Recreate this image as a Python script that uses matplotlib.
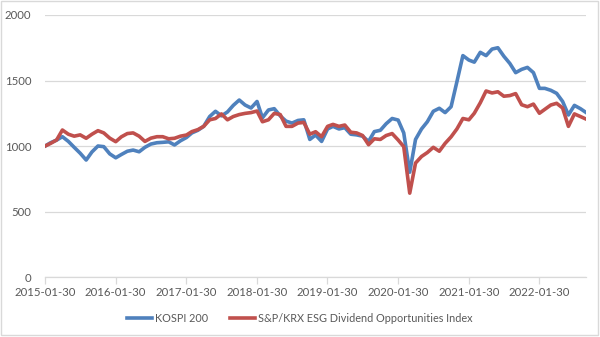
import matplotlib
matplotlib.use("Agg")
import matplotlib.pyplot as plt
import pandas as pd
from matplotlib.patches import Rectangle

plt.rcParams['font.family'] = ['Lato', 'DejaVu Sans']

dates = pd.date_range('2015-01-31', periods=93, freq='ME')

kospi = [1000, 1025, 1045, 1071, 1035, 990, 945, 893, 955, 1000, 995, 940,
         910, 935, 960, 969, 956, 990, 1015, 1025, 1028, 1032, 1008, 1040,
         1065, 1100, 1120, 1150, 1225, 1265, 1230, 1260, 1310, 1351, 1313, 1290,
         1340, 1215, 1275, 1285, 1230, 1190, 1175, 1195, 1200, 1050, 1084, 1035,
         1130, 1150, 1130, 1140, 1090, 1085, 1075, 1035, 1110, 1120, 1170, 1210,
         1198, 1100, 800, 1050, 1130, 1185, 1265, 1288, 1255, 1300, 1490, 1690,
         1656, 1640, 1715, 1690, 1740, 1750, 1685, 1630, 1560, 1585, 1600, 1560,
         1440, 1440, 1425, 1402, 1340, 1237, 1310, 1285, 1255]

esg = [1000, 1020, 1046, 1122, 1090, 1075, 1085, 1059, 1090, 1117, 1100, 1060,
       1033, 1070, 1095, 1100, 1075, 1035, 1060, 1071, 1071, 1055, 1059, 1075,
       1084, 1110, 1125, 1150, 1200, 1210, 1245, 1200, 1225, 1240, 1249, 1255,
       1267, 1185, 1200, 1249, 1240, 1150, 1150, 1175, 1180, 1090, 1109, 1071,
       1150, 1165, 1150, 1160, 1105, 1100, 1080, 1010, 1055, 1050, 1080, 1095,
       1046, 995, 640, 870, 920, 950, 990, 960, 1020, 1070, 1130, 1210,
       1200, 1250, 1330, 1420, 1405, 1414, 1380, 1385, 1400, 1315, 1300, 1320,
       1250, 1280, 1313, 1326, 1290, 1150, 1245, 1225, 1205]

tick_labels = ['2015-01-30', '2016-01-30', '2017-01-30', '2018-01-30',
               '2019-01-30', '2020-01-30', '2021-01-30', '2022-01-30']
y_ticks = [0, 500, 1000, 1500, 2000]
series_names = ['KOSPI 200', 'S&P/KRX ESG Dividend Opportunities Index']

fig = plt.figure(figsize=(6.0, 3.37), dpi=100)
ax = fig.add_axes([0.075, 0.178, 0.902, 0.7775])

txt = '#595959'
ax.plot(dates, kospi, color='#4F81BD', lw=2.6, label=series_names[0], solid_joinstyle='round')
ax.plot(dates, esg, color='#C0504D', lw=2.6, label=series_names[1], solid_joinstyle='round')

ax.set_xlim(dates[0], dates[-1])
ax.set_ylim(0, 2000)
ax.set_yticks(y_ticks)
ax.set_yticklabels([str(v) for v in y_ticks])
ax.grid(axis='y', color='#d9d9d9', lw=0.9)
ax.set_axisbelow(True)

ax.set_xticks(pd.to_datetime(tick_labels))
ax.set_xticklabels(tick_labels)

for s in ['top', 'right', 'left']:
    ax.spines[s].set_visible(False)
ax.spines['bottom'].set_color('#d9d9d9')
ax.spines['bottom'].set_linewidth(0.9)
ax.tick_params(axis='x', colors='#d9d9d9', labelcolor=txt, length=5, width=0.9, labelsize=8.2, pad=2)
ax.tick_params(axis='y', length=0, labelcolor=txt, labelsize=8.2, pad=10)

leg = fig.legend(loc='lower center', bbox_to_anchor=(0.5, 0.01), ncol=2, frameon=False,
                 fontsize=7.8, handlelength=2.3, columnspacing=2.0, handletextpad=0.3)
for t in leg.get_texts():
    t.set_color(txt)

fig.patches.append(Rectangle((0.002, 0.006), 0.994, 0.99, transform=fig.transFigure,
                             fill=False, edgecolor='#d9d9d9', lw=1.0))

fig.savefig('out.png', dpi=100, facecolor='white')
